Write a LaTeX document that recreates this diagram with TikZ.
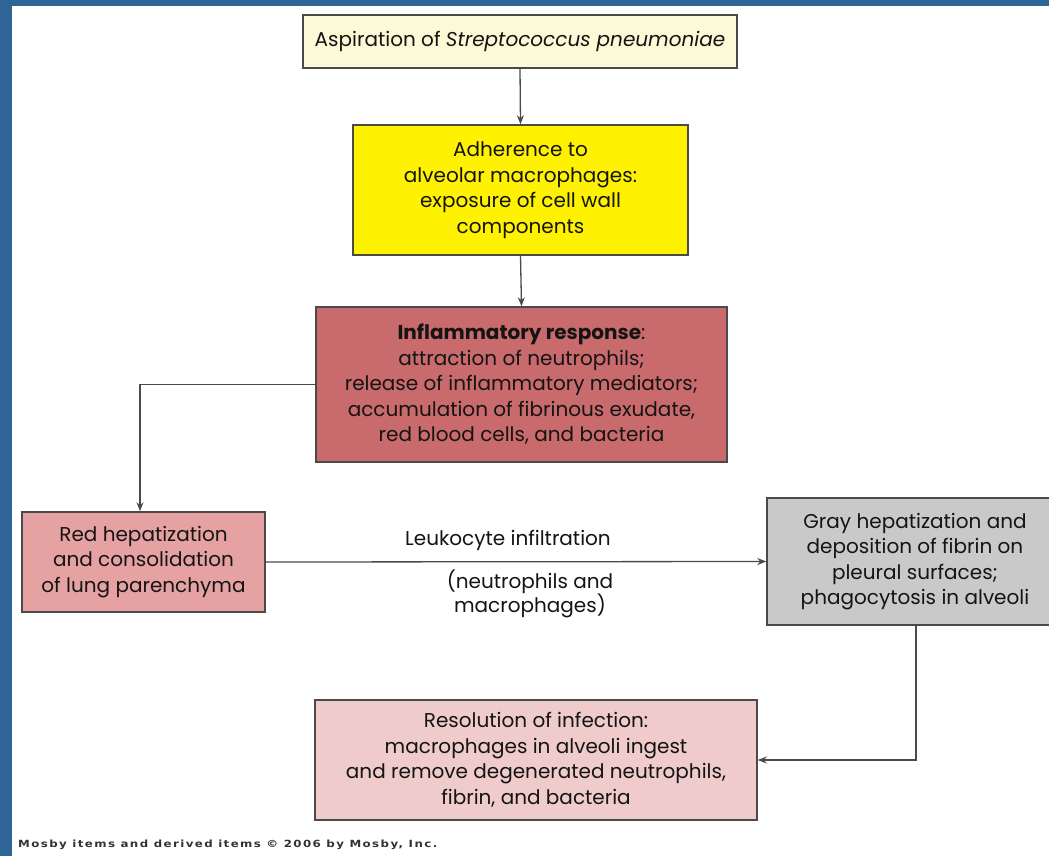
\documentclass[tikz,border=0pt]{standalone}
\usepackage{fontspec}
\setmainfont{Poppins}
\newfontfamily\footfont{DejaVu Sans}
\usetikzlibrary{arrows.meta}
\definecolor{bgblue}{HTML}{2F6496}
\definecolor{aspfill}{HTML}{FCF9D6}
\definecolor{adhfill}{HTML}{FFF200}
\definecolor{inffill}{HTML}{C96A6C}
\definecolor{redfill}{HTML}{E6A2A2}
\definecolor{grayfill}{HTML}{C9C9C9}
\definecolor{resfill}{HTML}{F0CBCB}
\definecolor{edge}{HTML}{4A4A4A}
\tikzset{
  box/.style={draw=edge, line width=1.5pt, inner sep=0pt, align=center,
    text=black!92, font=\fontsize{20}{25.5}\selectfont},
  arr/.style={draw=edge, line width=1.3pt, -{Stealth[length=9pt,width=7pt]}},
  lbl/.style={align=center, text=black!92, font=\fontsize{20}{24}\selectfont}
}
\begin{document}
\begin{tikzpicture}[x=1pt,y=-1pt]
\useasboundingbox (0,0) rectangle (1049,856);
\fill[white] (0,0) rectangle (1049,856);
\fill[bgblue] (0,0) rectangle (1049,6);
\fill[bgblue] (0,0) rectangle (12,856);

\node[box, fill=aspfill, minimum width=434pt, minimum height=53pt] (asp) at (520,41.5)
  {Aspiration of \textit{Streptococcus pneumoniae}};
\node[box, fill=adhfill, minimum width=335pt, minimum height=130pt] (adh) at (520.5,190)
  {Adherence to\\alveolar macrophages:\\exposure of cell wall\\components};
\node[box, fill=inffill, minimum width=411pt, minimum height=155pt] (inf) at (521.5,384.5)
  {\textbf{Inflammatory response}:\\attraction of neutrophils;\\release of inflammatory mediators;\\accumulation of fibrinous exudate,\\red blood cells, and bacteria};
\node[box, fill=redfill, minimum width=243pt, minimum height=100pt] (red) at (143.5,562)
  {Red hepatization\\and consolidation\\of lung parenchyma};
\node[box, fill=grayfill, minimum width=296pt, minimum height=127pt] (gray) at (915,561.5)
  {Gray hepatization and\\deposition of fibrin on\\pleural surfaces;\\phagocytosis in alveoli};
\node[box, fill=resfill, minimum width=442pt, minimum height=120pt] (res) at (536,760)
  {Resolution of infection:\\macrophages in alveoli ingest\\and remove degenerated neutrophils,\\fibrin, and bacteria};

\draw[arr] (asp.south) -- (adh.north);
\draw[arr] (adh.south) -- (inf.north);
\draw[arr] (inf.west) -| ([xshift=-3.5pt]red.north);
\draw[arr] (red.east) -- (gray.west);
\draw[arr] ([xshift=1pt]gray.south) |- (res.east);

\node[lbl] (leuk) at (508,540) {Leukocyte infiltration};
\node[lbl] (neut) at (530,594) {(neutrophils and\\macrophages)};

\node[anchor=base west, inner sep=0pt, text=black!80,
  font=\footfont\bfseries\fontsize{7}{8}\selectfont] (foot) at (18,847)
  {\resizebox{419pt}{7.5pt}{\addfontfeatures{LetterSpace=12}Mosby items and derived items © 2006 by Mosby, Inc.}};
\end{tikzpicture}
\end{document}
